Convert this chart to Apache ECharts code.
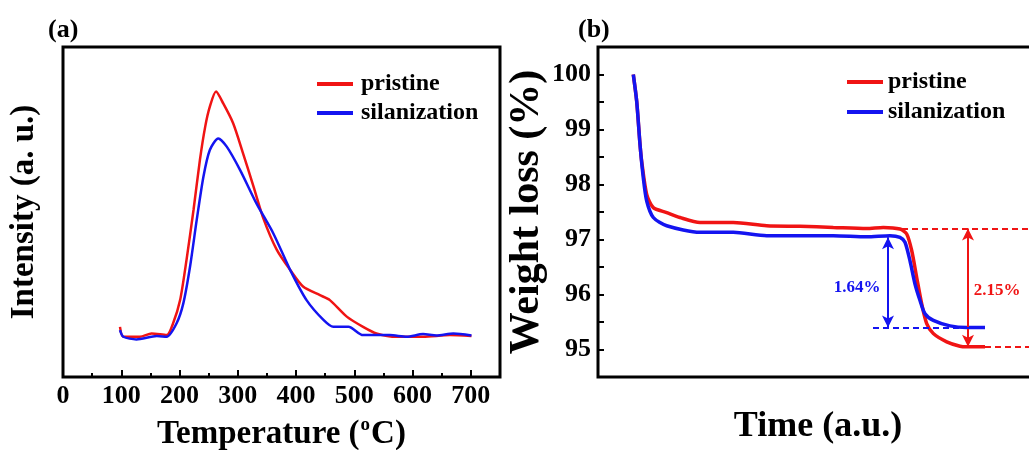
<!DOCTYPE html>
<html>
<head>
<meta charset="utf-8">
<script src="https://cdn.jsdelivr.net/npm/echarts@6/dist/echarts.min.js"></script>
<style>html,body{margin:0;padding:0;background:#fff;}#c{width:1029px;height:450px;}</style>
</head>
<body>
<div id="c"></div>
<script>
// ---- Panel (a): intensity vs temperature ----
const tempPristine = [97.8,103.5,132,152,178,189,201,212,224,235,244,252,262.6,275,292,309,327,344,367,390,412,441,458,487,515,538,573,618,664,701];
const intPristine  = [15.2,12.2,12.2,13.2,12.7,16.3,23.3,35.5,50.6,65.8,75.8,81.9,86.5,82.9,76.9,67.8,57.7,48.0,38.5,32.4,27.4,24.8,23.3,18.3,15.2,13.2,12.2,12.2,12.7,12.4];
const tempSilan = [97.8,103.5,126,161,178,195,206.5,218,229.5,241,252,266.5,281,304,332,361,390,418,447,464,490,515,561,590,618,641,670,701];
const intSilan  = [14.2,12.2,11.4,12.4,12.2,16.3,22.3,33.4,47.6,60.7,68.8,72.3,69.8,62.7,52.6,43.5,32.4,23.3,17.3,15.2,15.2,12.7,12.7,12.2,13.0,12.6,13.2,12.6];
const tempTicks = [0,100,200,300,400,500,600,700];

// ---- Panel (b): weight loss vs time ----
const timePristine = [35.3,38.7,42,43.7,48.7,55.3,68.7,82,102,135.3,168.7,202,235.3,268.7,285.3,302,308.7,313.7,318.7,323.7,328.7,335.3,348.7,362,368.7,387];
const wPristine    = [100.0,99.51,98.73,98.42,97.82,97.58,97.49,97.40,97.31,97.31,97.25,97.24,97.22,97.20,97.22,97.19,97.10,96.80,96.31,95.83,95.47,95.29,95.14,95.06,95.05,95.05];
const timeSilan = [35.3,38.7,42,45.3,48.7,55.3,68.7,102,135.3,168.7,202,235.3,268.7,292,302,307,312,317,322,327,335.3,352,368.7,387];
const wSilan    = [100.0,99.51,98.73,98.12,97.70,97.40,97.25,97.13,97.13,97.07,97.07,97.07,97.05,97.07,97.04,96.95,96.61,96.19,95.89,95.65,95.53,95.43,95.40,95.40];
const weightTicks = [95,96,97,98,99,100];

// annotation levels (weight %)
const lossSilan = [97.04, 95.40];
const lossPristine = [97.20, 95.05];
// annotation time positions (a.u.)
const silanArrowT = 290, silanDashStart = 275, silanDashEnd = 387;
const pristArrowT = 370, pristTopStart = 304, pristBottomStart = 387, timeEnd = 440;
const silanLabelT = 259, pristLabelT = 399;

const names = ['pristine', 'silanization'];
const RED = '#f01414', BLUE = '#1414f0';
const FONT = '"Liberation Serif","Times New Roman",serif';

function pairs(xs, ys){ return xs.map((x,i)=>[x, ys[i]]); }

const chart = echarts.init(document.getElementById('c'), null, {renderer:'canvas'});

const silanDelta = (lossSilan[0]-lossSilan[1]).toFixed(2) + '%';
const pristDelta = (lossPristine[0]-lossPristine[1]).toFixed(2) + '%';

const option = {
  animation: false,
  backgroundColor: '#fff',
  title: [
    {text:'(a)', left:43, top:12, textStyle:{fontFamily:FONT, fontWeight:'bold', fontSize:26, color:'#000'}},
    {text:'(b)', left:573, top:12, textStyle:{fontFamily:FONT, fontWeight:'bold', fontSize:26, color:'#000'}}
  ],
  legend: [
    {left:317, top:72, padding:0, orient:'vertical', itemWidth:36, itemHeight:4, itemGap:5, icon:'rect', data:names,
     textStyle:{fontFamily:FONT, fontWeight:'bold', fontSize:24, lineHeight:24, color:'#000', padding:[0,0,0,3]}},
    {left:847, top:70, padding:0, orient:'vertical', itemWidth:36, itemHeight:4, itemGap:6, icon:'rect', data:names,
     textStyle:{fontFamily:FONT, fontWeight:'bold', fontSize:24, lineHeight:24, color:'#000'}}
  ],
  grid: [
    {left:63, top:47, width:437, height:330, outerBoundsMode:'none', containLabel:false,
     show:true, borderColor:'#000', borderWidth:3, backgroundColor:'transparent'},
    {left:598, top:47, width:440, height:330, outerBoundsMode:'none', containLabel:false,
     show:true, borderColor:'#000', borderWidth:3, backgroundColor:'transparent'}
  ],
  xAxis: [
    {gridIndex:0, type:'value', position:'bottom', min:0, max:750, interval:50,
     axisLine:{show:false}, splitLine:{show:false},
     axisTick:{show:true, inside:true, length:4, lineStyle:{color:'#000', width:2}},
     axisLabel:{margin:6, showMaxLabel:false, fontFamily:FONT, fontWeight:'bold', fontSize:26, color:'#000',
       formatter:v => tempTicks.indexOf(v) >= 0 ? String(v) : ''},
     name:'{t|Temperature (}{s|o}{t|C)}', nameLocation:'middle', nameGap:39,
     nameTextStyle:{rich:{
       t:{fontFamily:FONT, fontWeight:'bold', fontSize:33, color:'#000', lineHeight:36},
       s:{fontFamily:FONT, fontWeight:'bold', fontSize:19, color:'#000', lineHeight:36, verticalAlign:'top', padding:[0,1,14,1]}
     }}},
    {gridIndex:0, type:'value', position:'bottom', min:0, max:750, interval:100,
     axisLine:{show:false}, splitLine:{show:false}, axisLabel:{show:false},
     axisTick:{show:true, inside:true, length:7, lineStyle:{color:'#000', width:2}}},
    {gridIndex:1, type:'value', position:'bottom', min:0, max:timeEnd,
     axisLine:{show:false}, splitLine:{show:false}, axisLabel:{show:false}, axisTick:{show:false},
     name:'Time (a.u.)', nameLocation:'middle', nameGap:32,
     nameTextStyle:{fontFamily:FONT, fontWeight:'bold', fontSize:36, color:'#000'}}
  ],
  yAxis: [
    {gridIndex:0, type:'value', min:0, max:100,
     axisLine:{show:false}, splitLine:{show:false}, axisLabel:{show:false}, axisTick:{show:false},
     name:'Intensity (a. u.)', nameLocation:'middle', nameGap:22, nameRotate:90,
     nameTextStyle:{fontFamily:FONT, fontWeight:'bold', fontSize:33, color:'#000'}},
    {gridIndex:1, type:'value', min:94.5, max:100.5, interval:0.5,
     axisLine:{show:false}, splitLine:{show:false},
     axisTick:{show:true, inside:true, length:6, lineStyle:{color:'#000', width:2}},
     axisLabel:{margin:7, fontFamily:FONT, fontWeight:'bold', fontSize:26, color:'#000',
       formatter:v => weightTicks.indexOf(v) >= 0 ? String(v) : ''},
     name:'Weight loss (%)', nameLocation:'middle', nameGap:46, nameRotate:90,
     nameTextStyle:{fontFamily:FONT, fontWeight:'bold', fontSize:42, color:'#000'}}
  ],
  series: [
    {name:'pristine', type:'line', xAxisIndex:0, yAxisIndex:0, data:pairs(tempPristine, intPristine),
     showSymbol:false, smooth:0.25, color:RED, lineStyle:{color:RED, width:2.5}},
    {name:'silanization', type:'line', xAxisIndex:0, yAxisIndex:0, data:pairs(tempSilan, intSilan),
     showSymbol:false, smooth:0.25, color:BLUE, lineStyle:{color:BLUE, width:2.5}},
    {name:'pristine', type:'line', xAxisIndex:2, yAxisIndex:1, data:pairs(timePristine, wPristine),
     showSymbol:false, smooth:0.25, color:RED, lineStyle:{color:RED, width:3.5},
     markLine:{silent:true, symbol:['none','none'], label:{show:false}, emphasis:{disabled:true},
       lineStyle:{color:RED, width:2, type:[6,4]},
       data:[
         [{coord:[pristTopStart, lossPristine[0]]}, {coord:[timeEnd, lossPristine[0]]}],
         [{coord:[pristBottomStart, lossPristine[1]]}, {coord:[timeEnd, lossPristine[1]]}],
         [{coord:[pristArrowT, lossPristine[0]], symbol:'arrow', symbolSize:[9,12], lineStyle:{type:'solid', width:2}},
          {coord:[pristArrowT, lossPristine[1]], symbol:'arrow', symbolSize:[9,12]}]
       ]},
     markPoint:{silent:true, symbol:'circle', symbolSize:0,
       data:[{coord:[pristLabelT, (lossPristine[0]+lossPristine[1])/2 - 0.06], value:pristDelta,
         label:{show:true, position:'inside', formatter:pristDelta, color:RED, fontFamily:FONT, fontWeight:'bold', fontSize:17}}]}},
    {name:'silanization', type:'line', xAxisIndex:2, yAxisIndex:1, data:pairs(timeSilan, wSilan),
     showSymbol:false, smooth:0.25, color:BLUE, lineStyle:{color:BLUE, width:3.5},
     markLine:{silent:true, symbol:['none','none'], label:{show:false}, emphasis:{disabled:true},
       lineStyle:{color:BLUE, width:2, type:[6,4]},
       data:[
         [{coord:[silanDashStart, lossSilan[1]]}, {coord:[silanDashEnd, lossSilan[1]]}],
         [{coord:[silanArrowT, lossSilan[0]], symbol:'arrow', symbolSize:[9,12], lineStyle:{type:'solid', width:2}},
          {coord:[silanArrowT, lossSilan[1]], symbol:'arrow', symbolSize:[9,12]}]
       ]},
     markPoint:{silent:true, symbol:'circle', symbolSize:0,
       data:[{coord:[silanLabelT, (lossSilan[0]+lossSilan[1])/2 - 0.1], value:silanDelta,
         label:{show:true, position:'inside', formatter:silanDelta, color:BLUE, fontFamily:FONT, fontWeight:'bold', fontSize:17}}]}}
  ]
};
chart.setOption(option);
</script>
</body>
</html>
